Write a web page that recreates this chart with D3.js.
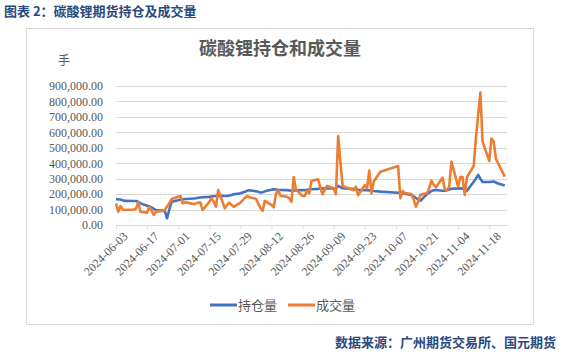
<!DOCTYPE html>
<html>
<head>
<meta charset="utf-8">
<script src="https://cdn.jsdelivr.net/npm/d3@7"></script>
<style>
  body { margin: 0; background: #fff; }
  svg { display: block; }
</style>
</head>
<body>
<script>
// 交易日
var dates = [
  "2024-06-03","2024-06-04","2024-06-05","2024-06-06","2024-06-07",
  "2024-06-11","2024-06-12","2024-06-13","2024-06-14",
  "2024-06-17","2024-06-18","2024-06-19","2024-06-20","2024-06-21",
  "2024-06-24","2024-06-25","2024-06-26","2024-06-27","2024-06-28",
  "2024-07-01","2024-07-02","2024-07-03","2024-07-04","2024-07-05",
  "2024-07-08","2024-07-09","2024-07-10","2024-07-11","2024-07-12",
  "2024-07-15","2024-07-16","2024-07-17","2024-07-18","2024-07-19",
  "2024-07-22","2024-07-23","2024-07-24","2024-07-25","2024-07-26",
  "2024-07-29","2024-07-30","2024-07-31","2024-08-01","2024-08-02",
  "2024-08-05","2024-08-06","2024-08-07","2024-08-08","2024-08-09",
  "2024-08-12","2024-08-13","2024-08-14","2024-08-15","2024-08-16",
  "2024-08-19","2024-08-20","2024-08-21","2024-08-22","2024-08-23",
  "2024-08-26","2024-08-27","2024-08-28","2024-08-29","2024-08-30",
  "2024-09-02","2024-09-03","2024-09-04","2024-09-05","2024-09-06",
  "2024-09-09","2024-09-10","2024-09-11","2024-09-12","2024-09-13",
  "2024-09-18","2024-09-19","2024-09-20",
  "2024-09-23","2024-09-24","2024-09-25","2024-09-26","2024-09-27",
  "2024-09-30",
  "2024-10-08","2024-10-09","2024-10-10","2024-10-11",
  "2024-10-14","2024-10-15","2024-10-16","2024-10-17","2024-10-18",
  "2024-10-21","2024-10-22","2024-10-23","2024-10-24","2024-10-25",
  "2024-10-28","2024-10-29","2024-10-30","2024-10-31","2024-11-01",
  "2024-11-04","2024-11-05","2024-11-06","2024-11-07","2024-11-08",
  "2024-11-11","2024-11-12","2024-11-13","2024-11-14","2024-11-15",
  "2024-11-18","2024-11-19","2024-11-20","2024-11-21","2024-11-22",
  "2024-11-25"
];

// 持仓量
var holding = [
  168000,166000,165000,160000,156000,
  155000,155000,150000,140000,
  125000,120000,115000,105000,97000,
  92000,88000,43000,100000,150000,
  160000,165000,165000,168000,168000,
  172000,173000,176000,178000,180000,
  182000,184000,186000,188000,190000,
  188000,188000,190000,195000,199000,
  205000,210000,215000,222000,225000,
  218000,215000,210000,212000,218000,
  228000,231000,230000,228000,227000,
  226000,224000,222000,222000,225000,
  227000,225000,228000,230000,231000,
  234000,236000,236000,237000,237000,
  236000,238000,253000,245000,238000,
  232000,230000,228000,
  226000,225000,224000,222000,220000,
  216000,
  209000,207000,205000,202000,
  194000,185000,175000,165000,157000,
  200000,210000,220000,225000,227000,
  222000,222000,225000,230000,235000,
  237000,238000,236000,226000,222000,
  280000,300000,324000,300000,278000,
  278000,280000,282000,275000,268000,
  255000
];

// 成交量
var volume = [
  140000,86000,123000,100000,97000,
  100000,104000,148000,86000,
  80000,118000,95000,65000,86000,
  93000,97000,120000,140000,168000,
  183000,188000,140000,147000,145000,
  134000,140000,145000,145000,97000,
  150000,173000,150000,118000,227000,
  108000,130000,145000,130000,118000,
  145000,160000,175000,188000,180000,
  170000,140000,110000,93000,156000,
  130000,114000,200000,227000,190000,
  183000,173000,151000,310000,230000,
  188000,188000,222000,205000,285000,
  296000,240000,199000,230000,253000,
  238000,199000,576000,410000,253000,
  225000,248000,192000,
  259000,238000,352000,205000,281000,
  345000,
  382000,173000,220000,207000,
  200000,165000,118000,150000,195000,
  205000,240000,287000,260000,244000,
  306000,231000,225000,248000,410000,
  248000,311000,311000,194000,311000,
  382000,560000,710000,857000,540000,
  415000,560000,540000,430000,400000,
  313000
];

var yTicks = [0,100000,200000,300000,400000,500000,600000,700000,800000,900000];
var xTickDates = ["2024-06-03","2024-06-17","2024-07-01","2024-07-15","2024-07-29",
  "2024-08-12","2024-08-26","2024-09-09","2024-09-23","2024-10-07",
  "2024-10-21","2024-11-04","2024-11-18"];
var xDomain = ["2024-06-03","2024-11-26"];

var W = 561, H = 354;
var margin = {top: 86, right: 54, bottom: 129, left: 116};
var width = W - margin.left - margin.right,
    height = H - margin.top - margin.bottom;

var parse = d3.timeParse("%Y-%m-%d");
var fmtDate = d3.timeFormat("%Y-%m-%d");
var serif = "'Liberation Serif', 'Times New Roman', 'DejaVu Serif', serif";
var cjk = "'Noto Sans CJK SC', sans-serif";

var svg = d3.select("body").append("svg")
    .attr("width", W)
    .attr("height", H);

// 标题
svg.append("text")
    .attr("x", 4).attr("y", 16)
    .style("font-family", cjk)
    .style("font-size", "13px")
    .style("font-weight", "bold")
    .attr("fill", "#2b4a7e")
    .text("图表 2：碳酸锂期货持仓及成交量");

// 图表边框
svg.append("rect")
    .attr("x", 26.5).attr("y", 28.5)
    .attr("width", 507).attr("height", 296)
    .attr("fill", "none")
    .attr("stroke", "#d9d9d9");

svg.append("text")
    .attr("x", 280).attr("y", 55)
    .attr("text-anchor", "middle")
    .style("font-family", cjk)
    .style("font-size", "18px")
    .style("font-weight", "bold")
    .attr("fill", "#595959")
    .text("碳酸锂持仓和成交量");

svg.append("text")
    .attr("x", 58).attr("y", 65)
    .style("font-family", cjk)
    .style("font-size", "12px")
    .attr("fill", "#595959")
    .text("手");

var g = svg.append("g")
    .attr("transform", "translate(" + margin.left + "," + margin.top + ")");

var xScale = d3.scaleTime()
    .domain(xDomain.map(parse))
    .range([0, width]);

var yScale = d3.scaleLinear()
    .domain([0, 900000])
    .range([height, 0]);

// 网格线
g.append("g")
    .selectAll("line")
    .data(yTicks.slice(1))
    .join("line")
    .attr("x1", 0).attr("x2", width)
    .attr("y1", d => Math.round(yScale(d)) + 0.5)
    .attr("y2", d => Math.round(yScale(d)) + 0.5)
    .attr("stroke", "#d9d9d9");

// Y轴
var yAxis = g.append("g")
    .call(d3.axisLeft(yScale).tickValues(yTicks).tickFormat(d3.format(",.2f")).tickSize(0).tickPadding(13));
yAxis.select(".domain").remove();
yAxis.selectAll("text")
    .style("font-family", serif)
    .style("font-size", "12px")
    .attr("fill", "#595959");

// X轴
var xAxis = g.append("g")
    .attr("transform", "translate(0," + height + ")")
    .call(d3.axisBottom(xScale).tickValues(xTickDates.map(parse)).tickFormat(fmtDate).tickSize(4).tickSizeOuter(0));
xAxis.select(".domain").attr("stroke", "#d9d9d9");
xAxis.selectAll(".tick line").attr("stroke", "#d9d9d9");
xAxis.selectAll("text")
    .style("font-family", serif)
    .style("font-size", "12px")
    .attr("fill", "#595959")
    .attr("text-anchor", "end")
    .attr("transform", "translate(4,4) rotate(-45)")
    .attr("dy", "0.35em")
    .attr("dx", "0");

// 折线
var lineHold = d3.line()
    .x((d, i) => xScale(parse(dates[i])))
    .y(d => yScale(d));

g.append("path")
    .datum(holding)
    .attr("fill", "none")
    .attr("stroke", "#4472c4")
    .attr("stroke-width", 2.6)
    .attr("stroke-linejoin", "round")
    .attr("d", lineHold);

g.append("path")
    .datum(volume)
    .attr("fill", "none")
    .attr("stroke", "#ed7d31")
    .attr("stroke-width", 2.6)
    .attr("stroke-linejoin", "round")
    .attr("d", lineHold);

// 图例
var legendItems = [
  {name: "持仓量", color: "#4472c4", x: 210},
  {name: "成交量", color: "#ed7d31", x: 288}
];
var lg = svg.append("g").selectAll("g")
    .data(legendItems)
    .join("g")
    .attr("transform", d => "translate(" + d.x + ",305)");
lg.append("line")
    .attr("x1", 0).attr("x2", 27)
    .attr("stroke", d => d.color)
    .attr("stroke-width", 3);
lg.append("text")
    .attr("x", 28).attr("y", 5)
    .style("font-family", cjk)
    .style("font-size", "13px")
    .attr("fill", "#595959")
    .text(d => d.name);

// 数据来源
svg.append("text")
    .attr("x", 556).attr("y", 347)
    .attr("text-anchor", "end")
    .style("font-family", cjk)
    .style("font-size", "13px")
    .style("font-weight", "bold")
    .attr("fill", "#2b4a7e")
    .text("数据来源：广州期货交易所、国元期货");
</script>
</body>
</html>
